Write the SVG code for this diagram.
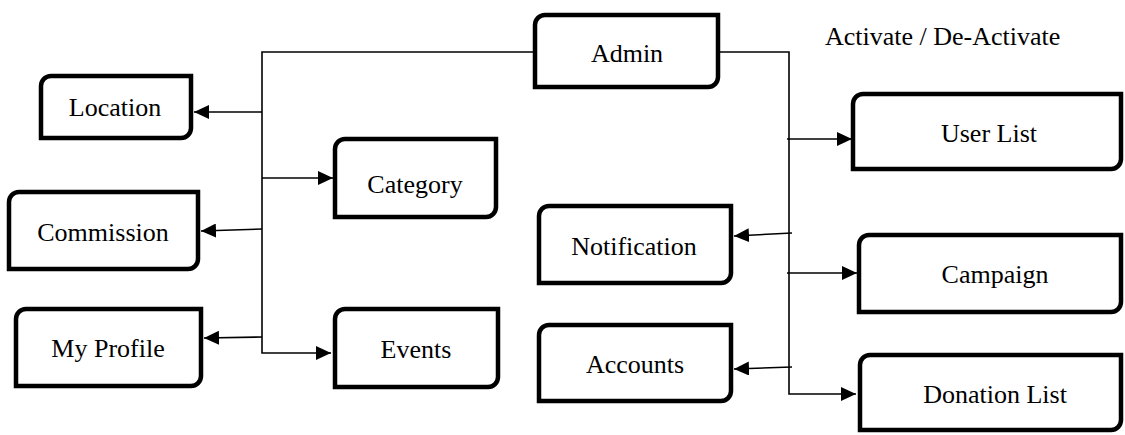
<svg xmlns="http://www.w3.org/2000/svg" width="1125" height="435" viewBox="0 0 1125 435">
<style>
.box{fill:#fff;stroke:#000;stroke-width:4.5;stroke-linejoin:miter}
text{font-family:'Liberation Serif','Times New Roman','DejaVu Serif',serif;font-size:26px;fill:#000}
.lbl{text-anchor:middle}
.con{fill:none;stroke:#000;stroke-width:1.6}
</style>
<defs>
<marker id="ah" markerUnits="userSpaceOnUse" markerWidth="16" markerHeight="14" refX="15" refY="7" orient="auto">
<path d="M0,0 L15,7 L0,14 Z" fill="#000"/>
</marker>
</defs>
<rect width="1125" height="435" fill="#fff"/>
<g id="connectors">
<polyline class="con" points="533,52 262,52 262,353 331,353" marker-end="url(#ah)"/>
<line class="con" x1="262" y1="112" x2="194" y2="112" marker-end="url(#ah)"/>
<line class="con" x1="262" y1="178" x2="333" y2="178" marker-end="url(#ah)"/>
<line class="con" x1="262" y1="229" x2="201" y2="231" marker-end="url(#ah)"/>
<line class="con" x1="262" y1="337" x2="204" y2="338" marker-end="url(#ah)"/>
<polyline class="con" points="720,52 789,52 789,394 856,394" marker-end="url(#ah)"/>
<line class="con" x1="787" y1="139" x2="852" y2="139" marker-end="url(#ah)"/>
<line class="con" x1="787" y1="273" x2="857" y2="273" marker-end="url(#ah)"/>
<line class="con" x1="792" y1="233" x2="734" y2="236" marker-end="url(#ah)"/>
<line class="con" x1="792" y1="367" x2="734" y2="369" marker-end="url(#ah)"/>
</g>
<text font-family="Liberation Serif, serif" x="825" y="45">Activate / De-Activate</text>
<g id="admin"><path class="box" d="M545,15 H718 V77 A10,10 0 0 1 708,87 H535 V25 A10,10 0 0 1 545,15 Z"/><text class="lbl" font-family="Liberation Serif, serif" x="627" y="62">Admin</text></g>
<g id="location"><path class="box" d="M51,76 H191 V128 A10,10 0 0 1 181,138 H41 V86 A10,10 0 0 1 51,76 Z"/><text class="lbl" font-family="Liberation Serif, serif" x="115" y="116">Location</text></g>
<g id="commission"><path class="box" d="M19,192 H198 V259 A10,10 0 0 1 188,269 H9 V202 A10,10 0 0 1 19,192 Z"/><text class="lbl" font-family="Liberation Serif, serif" x="103" y="241">Commission</text></g>
<g id="myprofile"><path class="box" d="M26,309 H201 V376 A10,10 0 0 1 191,386 H16 V319 A10,10 0 0 1 26,309 Z"/><text class="lbl" font-family="Liberation Serif, serif" x="108" y="357">My Profile</text></g>
<g id="category"><path class="box" d="M345,139 H496 V207 A10,10 0 0 1 486,217 H335 V149 A10,10 0 0 1 345,139 Z"/><text class="lbl" font-family="Liberation Serif, serif" x="415" y="193">Category</text></g>
<g id="events"><path class="box" d="M345,309 H498 V377 A10,10 0 0 1 488,387 H335 V319 A10,10 0 0 1 345,309 Z"/><text class="lbl" font-family="Liberation Serif, serif" x="416" y="358">Events</text></g>
<g id="notification"><path class="box" d="M549,206 H731 V273 A10,10 0 0 1 721,283 H539 V216 A10,10 0 0 1 549,206 Z"/><text class="lbl" font-family="Liberation Serif, serif" x="634" y="255">Notification</text></g>
<g id="accounts"><path class="box" d="M549,325 H731 V391 A10,10 0 0 1 721,401 H539 V335 A10,10 0 0 1 549,325 Z"/><text class="lbl" font-family="Liberation Serif, serif" x="635" y="373">Accounts</text></g>
<g id="userlist"><path class="box" d="M863,94 H1121 V159 A10,10 0 0 1 1111,169 H853 V104 A10,10 0 0 1 863,94 Z"/><text class="lbl" font-family="Liberation Serif, serif" x="989" y="142">User List</text></g>
<g id="campaign"><path class="box" d="M869,235 H1121 V302 A10,10 0 0 1 1111,312 H859 V245 A10,10 0 0 1 869,235 Z"/><text class="lbl" font-family="Liberation Serif, serif" x="995" y="283">Campaign</text></g>
<g id="donationlist"><path class="box" d="M870,355 H1121 V420 A10,10 0 0 1 1111,430 H860 V365 A10,10 0 0 1 870,355 Z"/><text class="lbl" font-family="Liberation Serif, serif" x="995" y="403">Donation List</text></g>
</svg>
